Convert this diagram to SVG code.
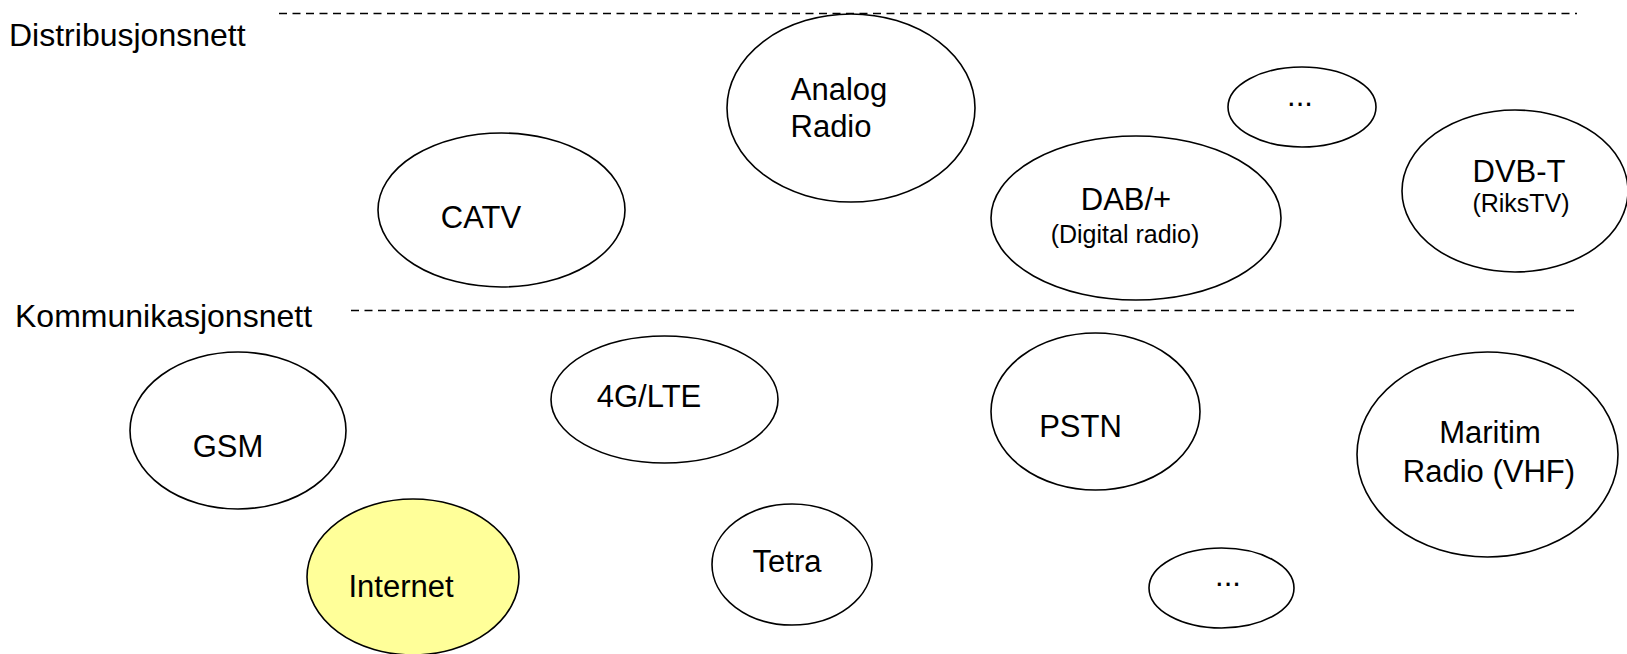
<svg xmlns="http://www.w3.org/2000/svg" width="1627" height="654" viewBox="0 0 1627 654">
<style>
.n{fill:#fff;stroke:#000;stroke-width:1.6}
.y{fill:#ffff99}
.t{font-family:"Liberation Sans",Arial,sans-serif;font-size:31px;fill:#000;text-anchor:middle}
.s{font-size:25px}
.h{font-family:"Liberation Sans",Arial,sans-serif;font-size:32px;fill:#000}
.d{stroke:#000;stroke-width:1.5;stroke-dasharray:8 5.5;fill:none}
</style>
<rect width="1627" height="654" fill="#fff"/>
<g id="sections">
<line class="d" x1="279" y1="13.5" x2="1577" y2="13.5"/>
<line class="d" x1="351" y1="310.5" x2="1577" y2="310.5"/>
<text class="h" x="9" y="46">Distribusjonsnett</text>
<text class="h" x="15" y="327">Kommunikasjonsnett</text>
</g>
<g id="connectors"></g>
<g id="catv"><ellipse class="n" cx="501.5" cy="210" rx="123.5" ry="77"/><text class="t" x="481" y="228">CATV</text></g>
<g id="analog"><ellipse class="n" cx="851" cy="108" rx="124" ry="94"/><text class="t" x="839" y="100">Analog</text><text class="t" x="831" y="137">Radio</text></g>
<g id="more-top"><ellipse class="n" cx="1302" cy="107" rx="74" ry="40"/><text class="t" x="1300" y="106">...</text></g>
<g id="dab"><ellipse class="n" cx="1136" cy="218" rx="145" ry="82"/><text class="t" x="1126" y="210">DAB/+</text><text class="t s" x="1125" y="243">(Digital radio)</text></g>
<g id="dvbt"><ellipse class="n" cx="1515" cy="191" rx="113" ry="81"/><text class="t" x="1519" y="182">DVB-T</text><text class="t s" x="1521" y="212">(RiksTV)</text></g>
<g id="gsm"><ellipse class="n" cx="238" cy="430.5" rx="108" ry="78.5"/><text class="t" x="228" y="457">GSM</text></g>
<g id="lte"><ellipse class="n" cx="664.5" cy="399.5" rx="113.5" ry="63.5"/><text class="t" x="649" y="407">4G/LTE</text></g>
<g id="internet"><ellipse class="n y" cx="413" cy="577" rx="106" ry="78"/><text class="t" x="401" y="597">Internet</text></g>
<g id="tetra"><ellipse class="n" cx="792" cy="564.5" rx="80" ry="60.5"/><text class="t" x="787" y="572">Tetra</text></g>
<g id="pstn"><ellipse class="n" cx="1095.5" cy="411.5" rx="104.5" ry="78.5"/><text class="t" x="1080.5" y="437">PSTN</text></g>
<g id="maritim"><ellipse class="n" cx="1487.5" cy="454.5" rx="130.5" ry="102.5"/><text class="t" x="1490" y="443">Maritim</text><text class="t" x="1489" y="482">Radio (VHF)</text></g>
<g id="more-bottom"><ellipse class="n" cx="1221.5" cy="588" rx="72.5" ry="40"/><text class="t" x="1228" y="586">...</text></g>
</svg>
